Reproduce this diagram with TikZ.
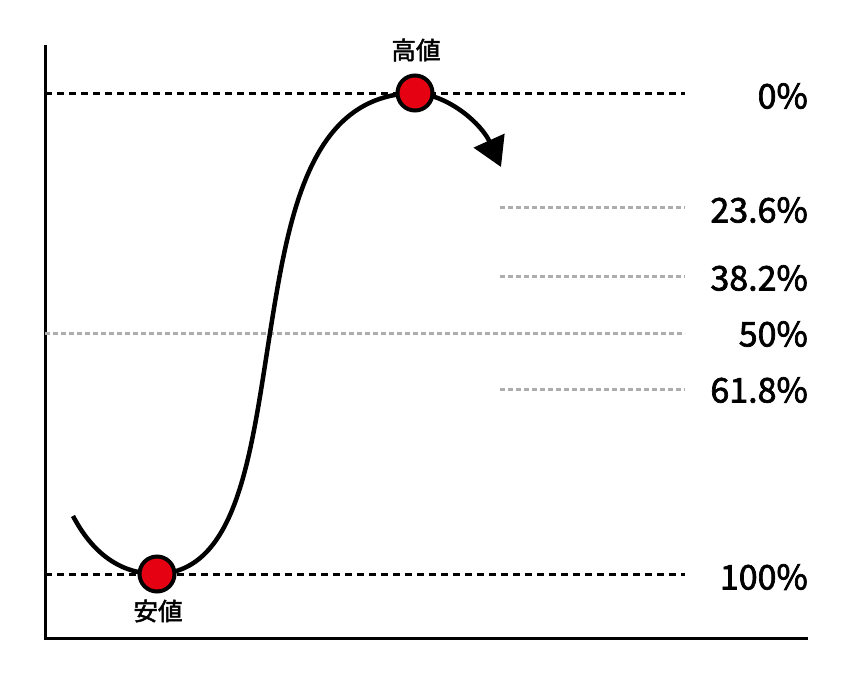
\documentclass[tikz,border=0pt]{standalone}
\usepackage{fontspec}
\setmainfont{Noto Sans CJK JP}[FakeBold=2]
\usepackage{tikz}
\usetikzlibrary{backgrounds}
\usetikzlibrary{arrows.meta}
\definecolor{pointred}{rgb}{0.9,0.0,0.07}
\definecolor{levelgray}{rgb}{0.68,0.68,0.68}

\begin{document}
\begin{tikzpicture}[
            x = 1pt, y = -1pt, % one unit per pixel, downwards
            > = {Triangle[length=29pt,width=33pt]} % big arrow head
        ]

        \tikzstyle{pricedot}=[
            circle,
            draw = black,
            line width = 4pt,
            fill = pointred,
            minimum size = 35pt,
            inner sep = 0pt
        ]
        \tikzstyle{level}=[line width = 3pt, dash pattern = on 7pt off 5pt]
        \tikzstyle{fib}=[line width = 3pt, levelgray, dash pattern = on 5pt off 3pt]
        \tikzstyle{price}=[line width = 4.5pt]
        \tikzstyle{pct}=[anchor = east, inner sep = 0pt, font = \fontsize{34}{34}\selectfont]
        \tikzstyle{pricelbl}=[inner sep = 0pt, font = \fontsize{24.5}{24.5}\selectfont]

        \useasboundingbox (0,0) rectangle (850,680);

	% high and low
        \node[pricedot] (high) at (415,93) {};
        \node[pricedot] (low) at (157,574) {};
        \node[pricelbl] (highlbl) at (416,50) {高値};
        \node[pricelbl] (lowlbl) at (158,611) {安値};

        % level labels
        \node[pct] (p0) at (808,96) {0\%};
        \node[pct] (p236) at (808,210) {23.6\%};
        \node[pct] (p382) at (808,278) {38.2\%};
        \node[pct] (p50) at (808,334) {50\%};
        \node[pct] (p618) at (808,390) {61.8\%};
        \node[pct] (p100) at (808,577) {100\%};

        % axes
        \coordinate (top) at (45,45);
        \coordinate (origin) at (45,638);
        \coordinate (end) at (808,638);

        % level lines
        \coordinate (l0a) at (45,93);   \coordinate (l0b) at (685,93);
        \coordinate (l1a) at (500,207); \coordinate (l1b) at (685,207);
        \coordinate (l2a) at (500,276); \coordinate (l2b) at (685,276);
        \coordinate (l3a) at (45,333);  \coordinate (l3b) at (685,333);
        \coordinate (l4a) at (500,389); \coordinate (l4b) at (685,389);
        \coordinate (l5a) at (45,574);  \coordinate (l5b) at (685,574);

        % price path
        \coordinate (start) at (73,516);
        \coordinate (mid) at (270,333);
        \coordinate (tip) at (501,167);

          \begin{scope}[on background layer]
          \draw[line width = 3pt] (top) -- (origin) -- (end);
          \draw[level] (l0a) -- (l0b);
          \draw[level] (l5a) -- (l5b);
          \draw[fib] (l1a) -- (l1b);
          \draw[fib] (l2a) -- (l2b);
          \draw[fib] (l3a) -- (l3b);
          \draw[fib] (l4a) -- (l4b);
          \draw[price] (start) .. controls (95,558) and (125,574) .. (low.center)
                .. controls (238,572) and (251,453) .. (mid)
                .. controls (289,213) and (310,95) .. (high.center);
          \draw[price,->] (high.center) .. controls (450,95) and (482,125) .. (tip);
          \end{scope}

  \end{tikzpicture}
\end{document}
